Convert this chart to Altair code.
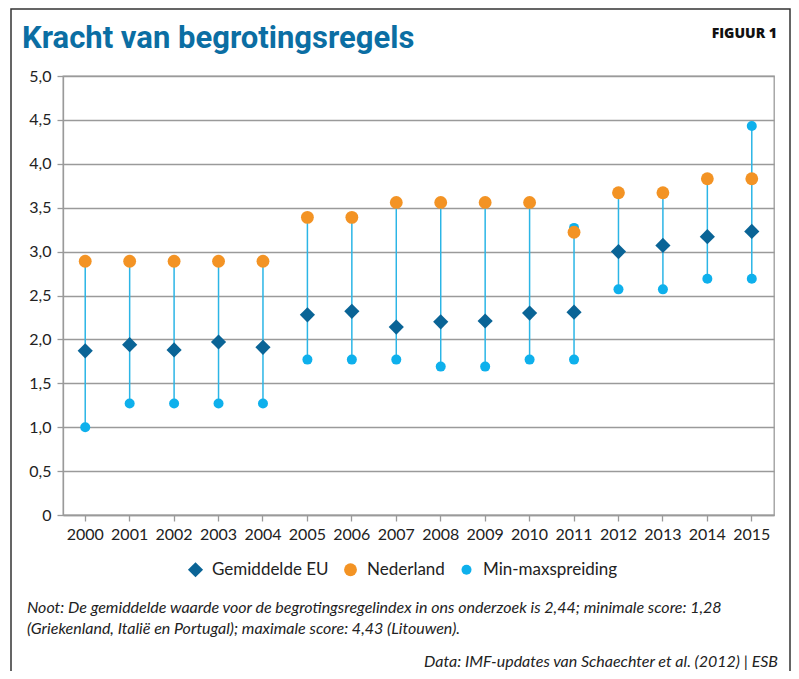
import altair as alt
import pandas as pd

# ---- data ----
jaren = ["2000", "2001", "2002", "2003", "2004", "2005", "2006", "2007",
         "2008", "2009", "2010", "2011", "2012", "2013", "2014", "2015"]
gemiddelde_eu = [1.87, 1.94, 1.88, 1.97, 1.91, 2.28, 2.32, 2.14,
                 2.20, 2.21, 2.30, 2.31, 3.00, 3.07, 3.17, 3.23]
nederland = [2.89, 2.89, 2.89, 2.89, 2.89, 3.39, 3.39, 3.56,
             3.56, 3.56, 3.56, 3.22, 3.67, 3.67, 3.83, 3.83]
spreiding_min = [1.00, 1.27, 1.27, 1.27, 1.27, 1.77, 1.77, 1.77,
                 1.69, 1.69, 1.77, 1.77, 2.57, 2.57, 2.69, 2.69]
spreiding_max = [2.89, 2.89, 2.89, 2.89, 2.89, 3.39, 3.39, 3.56,
                 3.56, 3.56, 3.56, 3.27, 3.67, 3.67, 3.83, 4.43]
reeksen = ["Gemiddelde EU", "Nederland", "Min-maxspreiding"]
y_ticks = [0, 0.5, 1.0, 1.5, 2.0, 2.5, 3.0, 3.5, 4.0, 4.5, 5.0]

titel = "Kracht van begrotingsregels"
figuur = "FIGUUR 1"
noot_1 = "Noot: De gemiddelde waarde voor de begrotingsregelindex in ons onderzoek is 2,44; minimale score: 1,28"
noot_2 = "(Griekenland, Italië en Portugal); maximale score: 4,43 (Litouwen)."
bron = "Data: IMF-updates van Schaechter et al. (2012) | ESB"

# ---- colours ----
DONKERBLAUW = "#0a6496"
ORANJE = "#f39324"
LICHTBLAUW = "#0eb0ec"
LIJN = "#2bb5e6"
TITEL_KLEUR = "#0b6ea3"
GRIJS = "#9a9a9a"
FONT = "Lato"

# ---- tables ----
spreiding = pd.DataFrame({"jaar": jaren, "min": spreiding_min, "max": spreiding_max})

rows = []
for i, j in enumerate(jaren):
    rows.append({"jaar": j, "reeks": "Min-maxspreiding", "waarde": spreiding_min[i], "volg": 0})
    rows.append({"jaar": j, "reeks": "Min-maxspreiding", "waarde": spreiding_max[i], "volg": 1})
for i, j in enumerate(jaren):
    rows.append({"jaar": j, "reeks": "Nederland", "waarde": nederland[i], "volg": 2})
for i, j in enumerate(jaren):
    rows.append({"jaar": j, "reeks": "Gemiddelde EU", "waarde": gemiddelde_eu[i], "volg": 3})
punten = pd.DataFrame(rows)

x_enc = alt.X(
    "jaar:N",
    sort=jaren,
    scale=alt.Scale(paddingInner=0, paddingOuter=0),
    axis=alt.Axis(
        title=None, labelAngle=0, labelFont=FONT, labelFontSize=16,
        labelColor="#222222", tickColor=GRIJS, tickSize=6, tickWidth=1.3,
        domainColor=GRIJS, domainWidth=1.3, labelPadding=5, grid=False,
    ),
)
y_scale = alt.Scale(domain=[0, 5], nice=False, zero=True)
y_axis = alt.Axis(
    title=None, values=y_ticks, grid=True, gridColor=GRIJS, gridWidth=1.3,
    domainColor=GRIJS, domainWidth=1.3, tickColor=GRIJS, tickSize=6, tickWidth=1.3,
    labelFont=FONT, labelFontSize=16, labelColor="#222222", labelPadding=6,
    labelExpr="datum.value == 0 ? '0' : replace(format(datum.value, '.1f'), '.', ',')",
)

lijnen = alt.Chart(spreiding).mark_rule(color=LIJN, strokeWidth=1.5).encode(
    x=x_enc,
    y=alt.Y("min:Q", scale=y_scale, axis=y_axis),
    y2="max:Q",
)

legenda = alt.Legend(
    title=None, orient="none", direction="horizontal", columns=3,
    legendX=124, legendY=485, padding=0,
    labelFont=FONT, labelFontSize=17, labelColor="#222222",
    labelOffset=8, columnPadding=13, symbolStrokeWidth=0, symbolOpacity=1,
)

symbolen = alt.Chart(punten).mark_point(filled=True, opacity=1, strokeWidth=0).encode(
    x=x_enc,
    y=alt.Y("waarde:Q", scale=y_scale, axis=y_axis),
    color=alt.Color("reeks:N", scale=alt.Scale(domain=reeksen, range=[DONKERBLAUW, ORANJE, LICHTBLAUW]), legend=legenda),
    shape=alt.Shape("reeks:N", scale=alt.Scale(domain=reeksen, range=["diamond", "circle", "circle"]), legend=legenda),
    size=alt.Size("reeks:N", scale=alt.Scale(domain=reeksen, range=[230, 100, 52]), legend=legenda),
    order=alt.Order("volg:Q"),
)


def tekst(t, x, y, size, align="left", weight="normal", style="normal", color="#222222", font=FONT):
    return alt.Chart(pd.DataFrame({"t": [t]})).mark_text(
        align=align, baseline="alphabetic", font=font, fontSize=size,
        fontWeight=weight, fontStyle=style, color=color,
    ).encode(text="t:N", x=alt.value(x), y=alt.value(y))


kader = alt.Chart(pd.DataFrame({"a": [0]})).mark_rect(
    filled=False, stroke="#333333", strokeWidth=1.5
).encode(x=alt.value(-52), x2=alt.value(727), y=alt.value(-67), y2=alt.value(640))

chart = alt.layer(
    kader,
    lijnen,
    symbolen,
    tekst(titel, -41, -28, 31, weight="bold", color=TITEL_KLEUR, font="Roboto"),
    tekst(figuur, 714, -38, 14, align="right", weight=800, color="#111111", font="Open Sans"),
    tekst(noot_1, -36, 537, 16, style="italic"),
    tekst(noot_2, -36, 558, 16, style="italic"),
    tekst(bron, 715, 591, 16, align="right", style="italic"),
).properties(
    width=711, height=439,
    padding={"left": 55, "top": 68, "right": 17, "bottom": 156},
    autosize="none",
).configure_view(stroke=GRIJS, strokeWidth=1.3)

chart.save("out.html", embed_options={"renderer": "svg", "actions": False})
